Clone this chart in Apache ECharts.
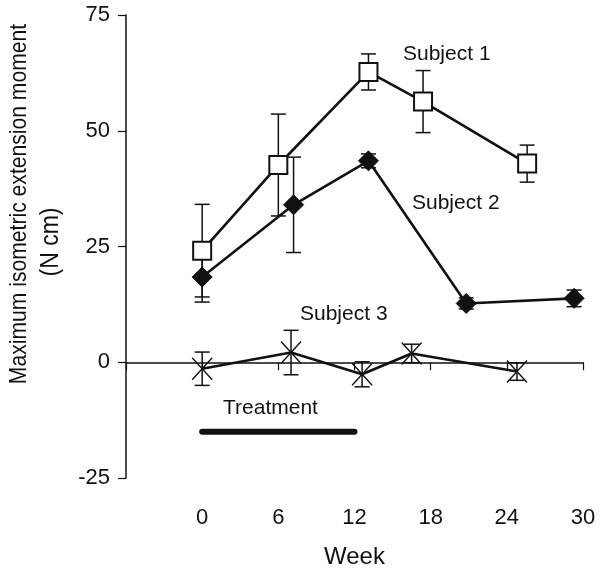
<!DOCTYPE html>
<html><head><meta charset="utf-8">
<script src="https://cdn.jsdelivr.net/npm/echarts@6/dist/echarts.min.js"></script>
<style>html,body{margin:0;padding:0;background:#fff}#c{width:600px;height:568px}</style>
</head><body><div id="c"></div>
<script>
// ---- data ----
const xTickValues = [0, 6, 12, 18, 24, 30];
const yTickValues = [-25, 0, 25, 50, 75];

const weeks1 = [0, 6, 13.1, 17.4, 25.6];
const subject1 = [24.1, 42.6, 62.7, 56.3, 42.9];
const subject1Err = [10, 11, 3.9, 6.7, 4];

const weeks2 = [0, 7.2, 13.1, 20.8, 29.3];
const subject2 = [18.4, 34, 43.5, 12.7, 13.8];
const subject2Err = [5.4, 10.3, 1.5, 1.2, 1.8];

const weeks3 = [0, 7, 12.6, 16.5, 24.8];
const subject3 = [-1.4, 2.1, -2.6, 1.9, -2.0];
const subject3Err = [3.6, 4.8, 2.7, 2.0, 1.9];

const treatmentWeeks = [0, 12];
const treatmentLevel = [-15, -15];

const seriesNames = ['Subject 1', 'Subject 2', 'Subject 3'];
const treatmentName = 'Treatment';
const xName = 'Week';
const yName1 = 'Maximum isometric extension moment';
const yName2 = '(N cm)';

// ---- chart ----
const FONT = '"Liberation Sans", Arial, Helvetica, sans-serif';
const INK = '#111';
const chart = echarts.init(document.getElementById('c'));

function pts(xs, ys) { return xs.map((x, i) => [x, ys[i]]); }
function errData(xs, ys, es) { return xs.map((x, i) => [x, ys[i] - es[i], ys[i] + es[i]]); }
function errSeries(data) {
  return {
    type: 'custom', xAxisIndex: 0, yAxisIndex: 0, z: 1, silent: true,
    encode: { x: 0, y: [1, 2] },
    renderItem(params, api) {
      const x = api.value(0), lo = api.value(1), hi = api.value(2);
      const a = api.coord([x, lo]), b = api.coord([x, hi]);
      const hw = 7.5;
      const st = { stroke: INK, lineWidth: 1.5 };
      return { type: 'group', children: [
        { type: 'line', shape: { x1: a[0], y1: a[1], x2: b[0], y2: b[1] }, style: st },
        { type: 'line', shape: { x1: a[0] - hw, y1: a[1], x2: a[0] + hw, y2: a[1] }, style: st },
        { type: 'line', shape: { x1: b[0] - hw, y1: b[1], x2: b[0] + hw, y2: b[1] }, style: st }
      ]};
    },
    data
  };
}

const textStyleBase = { fill: INK, fontSize: 21, fontFamily: FONT, align: 'left', verticalAlign: 'middle' };

const option = {
  animation: false,
  backgroundColor: '#fff',
  grid: { left: 126, right: 17, top: 15, bottom: 90, containLabel: false, outerBoundsMode: 'none' },
  xAxis: [
    {
      type: 'value', min: -6, max: 30, interval: 6, position: 'bottom',
      axisLine: { show: false, onZero: false },
      axisTick: { show: false },
      splitLine: { show: false },
      axisLabel: {
        margin: 29, fontSize: 22, fontFamily: FONT, color: INK,
        formatter: v => (xTickValues.indexOf(v) >= 0 ? String(v) : '')
      },
      name: xName, nameLocation: 'middle', nameGap: 67,
      nameTextStyle: { fontSize: 24, fontFamily: FONT, color: INK }
    },
    {
      type: 'value', min: -6, max: 30, interval: 6, position: 'bottom',
      axisLine: { show: true, onZero: true, lineStyle: { color: INK, width: 1.5 } },
      axisTick: { show: true, inside: false, length: 8, lineStyle: { color: INK, width: 1.2 } },
      axisLabel: { show: false },
      splitLine: { show: false }
    }
  ],
  yAxis: {
    type: 'value', min: -25, max: 75, interval: 25,
    axisLine: { show: true, onZero: false, lineStyle: { color: INK, width: 1.5 } },
    axisTick: { show: true, inside: false, length: 8, lineStyle: { color: INK, width: 1.2 } },
    splitLine: { show: false },
    axisLabel: {
      margin: 16, fontSize: 22, fontFamily: FONT, color: INK,
      formatter: v => (yTickValues.indexOf(v) >= 0 ? String(v) : '')
    }
  },
  graphic: [
    { type: 'text', x: 19, y: 204, rotation: Math.PI / 2, scaleX: 0.88, silent: true,
      style: { text: yName1, fill: INK, fontSize: 24, fontFamily: FONT, align: 'center', verticalAlign: 'middle' } },
    { type: 'text', x: 51, y: 242, rotation: Math.PI / 2, scaleX: 0.92, silent: true,
      style: { text: yName2, fill: INK, fontSize: 25, fontFamily: FONT, align: 'center', verticalAlign: 'middle' } },
    { type: 'text', x: 403, y: 54, silent: true, style: Object.assign({}, textStyleBase, { text: seriesNames[0] }) },
    { type: 'text', x: 412, y: 203, silent: true, style: Object.assign({}, textStyleBase, { text: seriesNames[1] }) },
    { type: 'text', x: 300, y: 314, silent: true, style: Object.assign({}, textStyleBase, { text: seriesNames[2] }) },
    { type: 'text', x: 223, y: 408, silent: true, style: Object.assign({}, textStyleBase, { text: treatmentName }) }
  ],
  series: [
    errSeries(errData(weeks1, subject1, subject1Err)),
    errSeries(errData(weeks2, subject2, subject2Err)),
    errSeries(errData(weeks3, subject3, subject3Err)),
    {
      name: seriesNames[0], type: 'line', z: 3, data: pts(weeks1, subject1),
      symbol: 'rect', symbolSize: 18,
      itemStyle: { color: '#fff', borderColor: INK, borderWidth: 2 },
      lineStyle: { color: INK, width: 2.6 }
    },
    {
      name: seriesNames[1], type: 'line', z: 3, data: pts(weeks2, subject2),
      symbol: 'diamond', symbolSize: 20,
      itemStyle: { color: INK, borderColor: INK, borderWidth: 1 },
      lineStyle: { color: INK, width: 2.6 }
    },
    {
      name: seriesNames[2], type: 'line', z: 3, data: pts(weeks3, subject3),
      symbol: 'path://M0,0L10,10M10,0L0,10', symbolSize: [20, 22],
      itemStyle: { color: INK, borderColor: INK, borderWidth: 1.5 },
      lineStyle: { color: INK, width: 2.6 }
    },
    {
      name: treatmentName, type: 'line', z: 3, data: pts(treatmentWeeks, treatmentLevel),
      symbol: 'none', lineStyle: { color: INK, width: 6, cap: 'round' }
    }
  ]
};
chart.setOption(option);
</script>
</body></html>
